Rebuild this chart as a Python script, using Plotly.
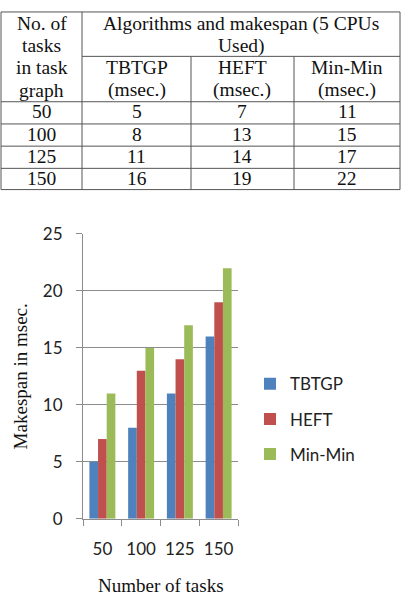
import plotly.graph_objects as go

# ---------------- data ----------------
tasks = ["50", "100", "125", "150"]
series_names = ["TBTGP", "HEFT", "Min-Min"]
tbtgp = [5, 8, 11, 16]
heft = [7, 13, 14, 19]
minmin = [11, 15, 17, 22]
series_values = [tbtgp, heft, minmin]
series_colors = ["#4F81BD", "#C0504D", "#9BBB59"]

header_col1 = ["No. of", "tasks", "in task", "graph"]
header_top = ["Algorithms and makespan (5 CPUs", "Used)"]
header_sub = [["TBTGP", "(msec.)"], ["HEFT", "(msec.)"], ["Min-Min", "(msec.)"]]

y_ticks = [0, 5, 10, 15, 20, 25]
x_title = "Number of tasks"
y_title = "Makespan in msec."

# ---------------- geometry helpers (pixel -> paper) ----------------
W, H = 402, 606


def X(px):
    return px / W


def Y(py):
    return 1 - py / H


fig = go.Figure()
for name, vals, col in zip(series_names, series_values, series_colors):
    fig.add_trace(go.Bar(x=tasks, y=vals, name=name, marker=dict(color=col, line=dict(width=0)),
                         legendgroup=name))

shapes = []
annotations = []

# ---------------- table ----------------
col_x = [1, 82, 191, 294, 400]
row_y = [1, 47, 94, 117, 140, 163, 185]
lc = "#555555"


def line(x0, y0, x1, y1):
    shapes.append(dict(type="line", xref="paper", yref="paper", x0=X(x0), y0=Y(y0), x1=X(x1), y1=Y(y1),
                       line=dict(color=lc, width=1)))


# outer border
line(col_x[0], row_y[0], col_x[-1], row_y[0])
line(col_x[0], row_y[-1], col_x[-1], row_y[-1])
line(col_x[0], row_y[0], col_x[0], row_y[-1])
line(col_x[-1], row_y[0], col_x[-1], row_y[-1])
# first column divider
line(col_x[1], row_y[0], col_x[1], row_y[-1])
# header split line
line(col_x[1], row_y[1], col_x[-1], row_y[1])
# sub column dividers
line(col_x[2], row_y[1], col_x[2], row_y[-1])
line(col_x[3], row_y[1], col_x[3], row_y[-1])
# row lines
for ry in row_y[2:-1]:
    line(col_x[0], ry, col_x[-1], ry)

SERIF = "'Times New Roman', 'Liberation Serif', 'DejaVu Serif', serif"
tfont = dict(family=SERIF, size=19.5, color="#111111")


def txt(x, y, s, font=tfont, **kw):
    annotations.append(dict(x=X(x), y=Y(y), xref="paper", yref="paper", text=s, showarrow=False,
                            xanchor="center", yanchor="middle", font=font, **kw))


hl = [13, 36, 59, 82]
c1 = (col_x[0] + col_x[1]) / 2
for s, yy in zip(header_col1, hl):
    txt(c1, yy, s)
ctop = (col_x[1] + col_x[-1]) / 2
for s, yy in zip(header_top, hl[:2]):
    txt(ctop, yy, s)
for i, sub in enumerate(header_sub):
    cx = (col_x[i + 1] + col_x[i + 2]) / 2
    for s, yy in zip(sub, hl[2:]):
        txt(cx, yy, s)
for r, t in enumerate(tasks):
    cy = (row_y[2 + r] + row_y[3 + r]) / 2 - 1
    txt(c1, cy, t)
    for i, vals in enumerate(series_values):
        cx = (col_x[i + 1] + col_x[i + 2]) / 2
        txt(cx, cy, str(vals[r]))

# ---------------- axis titles ----------------
sfont = dict(family=SERIF, size=19, color="#111111")
txt(160.5, 595, x_title, font=sfont)
txt(20, 378.5, y_title, font=sfont, textangle=-90)

gc = "#8c8c8c"
tickfont = dict(family="Lato", size=17, color="#222222")

fig.update_layout(
    width=W, height=H, autosize=False,
    margin=dict(l=0, r=0, t=0, b=0, pad=0),
    paper_bgcolor="white", plot_bgcolor="white",
    barmode="group", bargap=0.33, bargroupgap=0,
    showlegend=True,
    legend=dict(x=X(250), y=Y(368), xanchor="left", yanchor="top", font=tickfont,
                bgcolor="rgba(0,0,0,0)", tracegroupgap=10, traceorder="grouped"),
    xaxis=dict(domain=[X(83), X(238)], type="category", showline=True, linecolor=gc, linewidth=1,
               ticks="outside", ticklen=6, tickcolor=gc, tickson="boundaries", tickfont=tickfont,
               showgrid=False, ticklabelstandoff=15, fixedrange=True),
    yaxis=dict(domain=[Y(526), Y(231)], range=[0, 25], tickvals=y_ticks, showline=True, linecolor=gc,
               linewidth=1, ticks="outside", ticklen=6, tickcolor=gc, showgrid=True, gridcolor=gc,
               gridwidth=1, zeroline=False, tickfont=tickfont, ticklabelstandoff=10, fixedrange=True),
    shapes=shapes,
    annotations=annotations,
)

fig.write_html("out.html")
